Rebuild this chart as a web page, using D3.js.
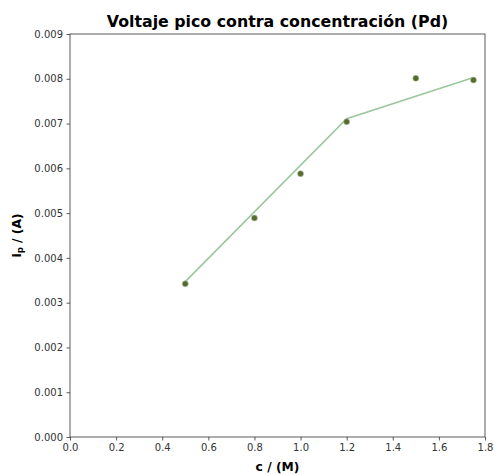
<!DOCTYPE html>
<html>
<head>
<meta charset="utf-8">
<script src="https://cdn.jsdelivr.net/npm/d3@7"></script>
<style>
  body { margin: 0; background: #fff; }
  text { font-family: "DejaVu Sans", sans-serif; }
  .tick text { font-size: 10px; fill: #333; }
</style>
</head>
<body>
<div id="chart"></div>
<script>
// measured points
const concentration = [0.5, 0.8, 1.0, 1.2, 1.5, 1.75]
const peakCurrent = [0.00342, 0.00489, 0.00588, 0.00704, 0.00801, 0.00797]

// fitted line segments
const fitX = [0.5, 1.2, 1.75]
const fitY = [0.00347, 0.00711, 0.00803]

const xTicks = [0, 0.2, 0.4, 0.6, 0.8, 1.0, 1.2, 1.4, 1.6, 1.8]
const yTicks = [0, 0.001, 0.002, 0.003, 0.004, 0.005, 0.006, 0.007, 0.008, 0.009]

const viewBoxWidth = 494
const viewBoxHeight = 475
const plotLeft = 70, plotRight = 485, plotTop = 34, plotBottom = 437

const svg = d3.select('#chart')
    .append('svg')
    .attr('width', viewBoxWidth)
    .attr('height', viewBoxHeight)

const x = d3.scaleLinear().domain([0, 1.8]).range([plotLeft, plotRight])
const y = d3.scaleLinear().domain([0, 0.009]).range([plotBottom, plotTop])

svg.append('g')
    .attr('transform', `translate(0, ${plotBottom})`)
    .call(d3.axisBottom(x).tickValues(xTicks).tickFormat(d3.format('.1f')).tickSizeOuter(0).tickSize(3.5).tickPadding(3.5))

svg.append('g')
    .attr('transform', `translate(${plotLeft}, 0)`)
    .call(d3.axisLeft(y).tickValues(yTicks).tickFormat(d3.format('.3f')).tickSizeOuter(0).tickSize(3.5).tickPadding(3.5))

svg.selectAll('.domain').remove()
svg.selectAll('.tick line').attr('stroke', '#333').attr('stroke-width', 0.8)

// frame
svg.append('rect')
    .attr('x', plotLeft)
    .attr('y', plotTop)
    .attr('width', plotRight - plotLeft)
    .attr('height', plotBottom - plotTop)
    .attr('fill', 'none')
    .attr('stroke', '#333')
    .attr('stroke-width', 0.8)

const fitData = fitX.map((v, i) => [v, fitY[i]])
svg.append('path')
    .datum(fitData)
    .attr('d', d3.line().x(d => x(d[0])).y(d => y(d[1])))
    .attr('fill', 'none')
    .attr('stroke', '#9cc79c')
    .attr('stroke-width', 1.6)

svg.append('g')
    .selectAll('circle')
    .data(concentration)
    .enter()
    .append('circle')
    .attr('cx', d => x(d))
    .attr('cy', (d, i) => y(peakCurrent[i]))
    .attr('r', 3)
    .attr('fill', '#556b2f')
    .attr('stroke', '#b5c4a0')
    .attr('stroke-width', 0.6)

// title and labels
svg.append('text')
    .attr('x', (plotLeft + plotRight) / 2)
    .attr('y', 26.5)
    .attr('text-anchor', 'middle')
    .attr('font-size', 15.8)
    .attr('font-weight', 'bold')
    .text('Voltaje pico contra concentración (Pd)')

svg.append('text')
    .attr('x', (plotLeft + plotRight) / 2)
    .attr('y', 471)
    .attr('text-anchor', 'middle')
    .attr('font-size', 12.3)
    .attr('font-weight', 'bold')
    .text('c / (M)')

const yLabel = svg.append('text')
    .attr('transform', `translate(21, ${(plotTop + plotBottom) / 2}) rotate(-90)`)
    .attr('text-anchor', 'middle')
    .attr('font-size', 12.3)
    .attr('font-weight', 'bold')
yLabel.append('tspan').text('i')
yLabel.append('tspan').attr('font-size', 8.5).attr('dy', 2).text('p')
yLabel.append('tspan').attr('dy', -2).text(' / (A)')
</script>
</body>
</html>
